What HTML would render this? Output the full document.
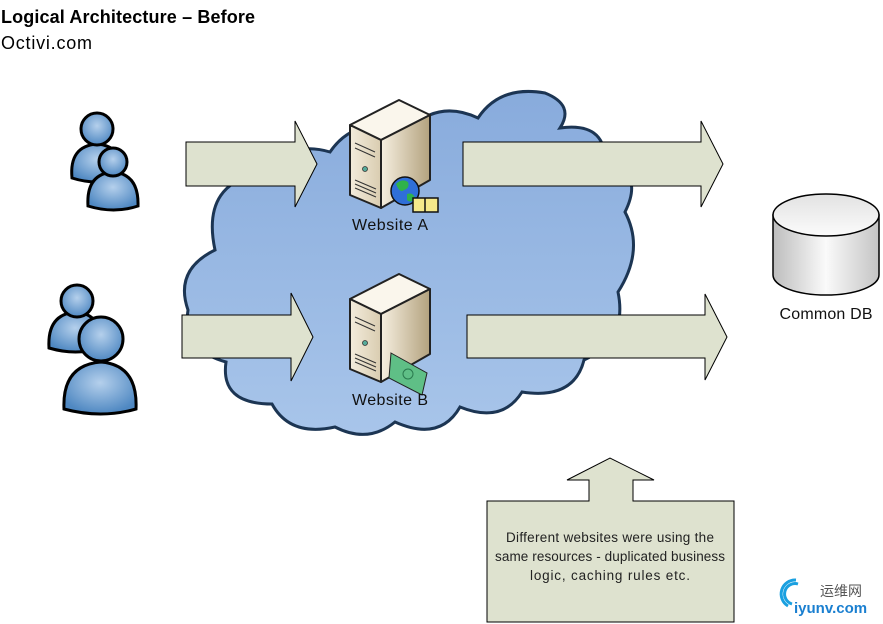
<!DOCTYPE html>
<html><head><meta charset="utf-8"><style>
html,body{margin:0;padding:0;background:#fff;width:883px;height:624px;overflow:hidden}
svg{display:block}
text{font-family:"Liberation Sans","DejaVu Sans",sans-serif}
</style></head><body>
<svg width="883" height="624" viewBox="0 0 883 624" xmlns="http://www.w3.org/2000/svg">
<defs>
<linearGradient id="cl" x1="0" y1="0" x2="0" y2="1"><stop offset="0" stop-color="#88abdc"/><stop offset="1" stop-color="#a8c5ea"/></linearGradient>
<radialGradient id="pp" cx="0.5" cy="0.4" r="0.6"><stop offset="0" stop-color="#b5d0ec"/><stop offset="1" stop-color="#4f88c2"/></radialGradient>
<linearGradient id="sf" x1="0" y1="0" x2="1" y2="0"><stop offset="0" stop-color="#f3ecdc"/><stop offset="1" stop-color="#d9ccb0"/></linearGradient>
<linearGradient id="ss" x1="0" y1="0" x2="1" y2="0"><stop offset="0" stop-color="#f6efe0"/><stop offset="1" stop-color="#b3a27e"/></linearGradient>
<linearGradient id="db" x1="0" y1="0" x2="1" y2="0"><stop offset="0" stop-color="#bdbdbd"/><stop offset="0.5" stop-color="#fafafa"/><stop offset="1" stop-color="#c4c4c4"/></linearGradient>
<linearGradient id="dbt" x1="0" y1="0" x2="0" y2="1"><stop offset="0" stop-color="#e2e2e2"/><stop offset="1" stop-color="#fbfbfb"/></linearGradient>
</defs>
<text x="1" y="23" font-size="18" font-weight="bold" fill="#000" textLength="254">Logical Architecture – Before</text>
<text x="1" y="49" font-size="18" fill="#000" textLength="91">Octivi.com</text>

<path d="M215,250 Q200,180 268,172 Q290,140 330,152 Q355,115 410,128 Q440,100 478,118 Q500,85 545,93 Q575,105 560,128 Q605,122 605,160 Q645,172 625,212 Q645,250 618,292 Q628,340 584,360 Q574,400 522,392 Q502,424 460,407 Q440,442 395,422 Q368,444 335,427 Q290,437 272,404 Q220,404 226,362 Q182,350 188,310 Q174,270 215,250 Z" fill="url(#cl)" stroke="#1c3553" stroke-width="3"/>

<g fill="#dee2cf" stroke="#000" stroke-width="1">
<polygon points="186,142 295,142 295,121 317,164 295,207 295,186 186,186"/>
<polygon points="182,315 291,315 291,293 313,337 291,381 291,358 182,358"/>
<polygon points="463,142 701,142 701,121 723,164 701,207 701,186 463,186"/>
<polygon points="467,315 705,315 705,294 727,337 705,380 705,358 467,358"/>
<polygon points="487,501 589,501 589,480 567,480 610,458 654,480 633,480 633,501 734,501 734,622 487,622"/>
</g>

<g id="srv" stroke="#222" stroke-width="2" stroke-linejoin="round">
<polygon points="350,125 399,100 430,115 381,140" fill="#faf6ec"/>
<polygon points="350,125 381,140 381,208 350,195" fill="url(#sf)"/>
<polygon points="381,140 430,115 430,180 381,208" fill="url(#ss)"/>
<g stroke="#333" stroke-width="1"><line x1="355" y1="143" x2="375" y2="152"/><line x1="355" y1="148" x2="375" y2="157"/><line x1="355" y1="180" x2="376" y2="189"/><line x1="355" y1="184" x2="376" y2="193"/><line x1="355" y1="188" x2="376" y2="197"/></g>
<circle cx="365" cy="169" r="2.5" fill="#5a9" stroke="#333" stroke-width="0.8"/>
</g>
<use href="#srv" transform="translate(0,174)"/>
<circle cx="405" cy="191" r="14" fill="#2f6fd8" stroke="#111" stroke-width="1.5"/>
<path d="M396,184 q6,-6 12,-2 q2,6 -4,8 q-4,4 -8,-6z M407,194 q6,-2 8,4 q-4,6 -8,2z" fill="#2fb24a"/>
<polygon points="413,198 438,198 438,212 413,212" fill="#f5e98a" stroke="#111" stroke-width="1.5"/>
<line x1="425" y1="198" x2="425" y2="212" stroke="#111" stroke-width="1.5"/>
<polygon points="391,353 427,373 422,395 389,378" fill="#5fbf86" stroke="#222" stroke-width="1"/>
<circle cx="408" cy="374" r="5" fill="none" stroke="#2a7a4e"/>

<text x="390" y="230" font-size="16" text-anchor="middle" fill="#111" textLength="76">Website A</text>
<text x="390" y="405" font-size="16" text-anchor="middle" fill="#111" textLength="76">Website B</text>

<g stroke="#000" stroke-width="3" fill="url(#pp)">
<path d="M72,178 q-3,-32 25,-34 q27,2 25,34 q-25,8 -50,0z"/>
<circle cx="97" cy="129" r="16"/>
<path d="M88,206 q-2,-32 25,-34 q26,2 25,34 q-24,8 -50,0z"/>
<circle cx="113" cy="162" r="14"/>
<path d="M49,348 q-2,-34 27,-36 q27,2 25,36 q-25,8 -52,0z"/>
<circle cx="77" cy="301" r="16"/>
<path d="M64,409 q-2,-44 37,-47 q37,3 35,47 q-35,10 -72,0z"/>
<circle cx="101" cy="339" r="22"/>
</g>

<path d="M773,215 L773,275 A53,20 0 0 0 879,275 L879,215 Z" fill="url(#db)" stroke="#000" stroke-width="1.5"/>
<ellipse cx="826" cy="215" rx="53" ry="21" fill="url(#dbt)" stroke="#000" stroke-width="1.5"/>
<text x="826" y="319" font-size="16" text-anchor="middle" fill="#111" textLength="93">Common DB</text>

<g font-size="13.5" text-anchor="middle" fill="#222">
<text x="610" y="542" textLength="208">Different websites were using the</text>
<text x="610" y="561" textLength="230">same resources - duplicated business</text>
<text x="610" y="580" textLength="160">logic, caching rules etc.</text>
</g>

<path d="M788,606 a14,14 0 0 1 8,-26 M792,604 a10,10 0 0 1 6,-20" fill="none" stroke="#1aa0e0" stroke-width="3"/>
<text x="820" y="596" font-size="14" fill="#555" font-family="Noto Sans CJK SC,sans-serif">运维网</text>
<text x="794" y="613" font-size="15" fill="#1a7fd0" font-weight="bold">iyunv.com</text>
</svg>
</body></html>
